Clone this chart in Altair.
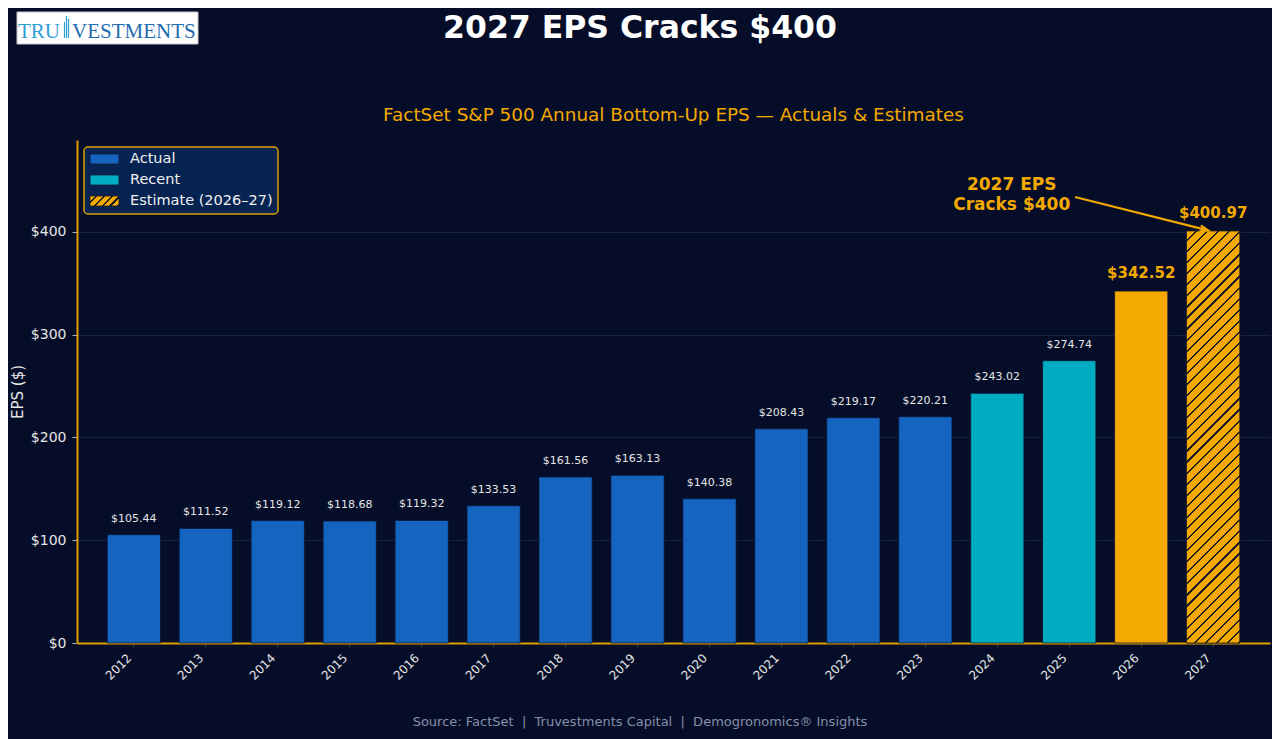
import math
import altair as alt
import pandas as pd

# ---------------- data ----------------
years = ["2012", "2013", "2014", "2015", "2016", "2017", "2018", "2019",
         "2020", "2021", "2022", "2023", "2024", "2025", "2026", "2027"]
eps = [105.44, 111.52, 119.12, 118.68, 119.32, 133.53, 161.56, 163.13,
       140.38, 208.43, 219.17, 220.21, 243.02, 274.74, 342.52, 400.97]
kinds = ["Actual"] * 12 + ["Recent"] * 2 + ["Estimate"] * 2
kind_order = ["Actual", "Recent", "Estimate"]
legend_labels = ["Actual", "Recent", "Estimate (2026–27)"]
y_ticks = [0, 100, 200, 300, 400]

title_text = "2027 EPS Cracks $400"
subtitle_text = "FactSet S&P 500 Annual Bottom-Up EPS — Actuals & Estimates"
source_text = "Source: FactSet\u00a0 |\u00a0 Truvestments Capital\u00a0 |\u00a0 Demogronomics® Insights"
annot_text = "2027 EPS\nCracks $400"

df = pd.DataFrame({"year": years, "eps": eps, "kind": kinds})

# ---------------- style ----------------
BG = "#050d28"
BLUE = "#1565c0"
CYAN = "#00acc1"
GOLD = "#f4a900"
HATCH = "#1c1c24"
TXT = "#e6e6e6"
FONT = "DejaVu Sans"

W, H = 1193, 503
YMAX = 489.5
P_IN, P_OUT = 0.26, 0.42
N = len(years)
step = W / (N - P_IN + 2 * P_OUT)
bar_w = step * (1 - P_IN)
c0 = P_OUT + (1 - P_IN) / 2          # first band centre, in steps
XQ_DOMAIN = [-c0, W / step - c0]      # index scale aligned with band centres


def hatch(w, h, n, base, line, frac=0.2):
    k = (w + h) / (w * w + h * h)
    stops = []
    for i in range(n):
        a, b, c = i / n, (i + 1 - frac) / n, (i + 1) / n
        stops += [alt.GradientStop(offset=a, color=base),
                  alt.GradientStop(offset=b, color=base),
                  alt.GradientStop(offset=b, color=line),
                  alt.GradientStop(offset=c, color=line)]
    return alt.LinearGradient(gradient="linear", stops=stops,
                              x1=0, y1=0, x2=k * w, y2=k * h)


bar_h_2027 = eps[-1] * H / YMAX

# ---------------- axes ----------------
x_axis = alt.Axis(title=None, labelAngle=-45, labelAlign="right",
                  labelBaseline="top", labelFontSize=12,
                  labelColor=TXT, labelPadding=5, labelOffset=-8,
                  tickColor="#3a3a3a",
                  tickSize=4, domainColor="#e0a000", domainWidth=2,
                  grid=False)
y_axis = alt.Axis(title="EPS ($)", values=y_ticks,
                  labelExpr="'$' + datum.value", labelFontSize=14,
                  labelColor=TXT, labelPadding=6, tickColor="#b0b0b0",
                  tickSize=5, domainColor="#e0a000", domainWidth=2,
                  grid=True, gridColor="#17223f", gridWidth=1,
                  titleColor=TXT, titleFontSize=15,
                  titleFontWeight="normal", titleX=-60,
                  titleY=H / 2, titleBaseline="middle",
                  titleAlign="center")
y_scale = alt.Scale(domain=[0, YMAX], nice=False)

x_enc = alt.X("year:N", sort=years,
              scale=alt.Scale(paddingInner=P_IN, paddingOuter=P_OUT),
              axis=x_axis)
y_enc = alt.Y("eps:Q", scale=y_scale, axis=y_axis)

base = alt.Chart(df)

bars = base.mark_bar(stroke="#0a1636", strokeWidth=0.8).encode(
    x=x_enc, y=y_enc,
    color=alt.Color("kind:N", scale=alt.Scale(domain=kind_order,
                                              range=[BLUE, CYAN, GOLD]),
                    legend=None))

hatch_bar = base.transform_filter("datum.year == '2027'").mark_bar(
    fill=hatch(bar_w, bar_h_2027, 42, GOLD, HATCH),
    stroke=HATCH, strokeWidth=0.8).encode(x=x_enc, y=y_enc)

small_labels = base.transform_filter("datum.kind != 'Estimate'").mark_text(
    dy=-16, fontSize=11, color=TXT, font=FONT).encode(
    x=x_enc, y=y_enc, text=alt.Text("eps:Q", format="$.2f"))

big_labels = base.transform_filter("datum.kind == 'Estimate'").mark_text(
    dy=-18, fontSize=15, fontWeight="bold", color=GOLD, font=FONT).encode(
    x=x_enc, y=y_enc, text=alt.Text("eps:Q", format="$.2f"))

main = alt.layer(bars, hatch_bar, small_labels, big_labels)

# ---------------- annotation ----------------
ann_x, ann_y = 12.2, 445.7
arr_x0, arr_y0 = 13.08, 434.0
arr_x1, arr_y1 = 14.93, 401.5

px0 = (arr_x0 + c0) * step
py0 = H - arr_y0 * H / YMAX
px1 = (arr_x1 + c0) * step
py1 = H - arr_y1 * H / YMAX
ang = math.degrees(math.atan2(px1 - px0, -(py1 - py0))) % 360

ann_df = pd.DataFrame({"ax": [ann_x], "ay": [ann_y], "txt": [annot_text]})
arr_df = pd.DataFrame({"x0": [arr_x0], "y0": [arr_y0], "x1": [arr_x1], "y1": [arr_y1]})
xq = alt.Scale(domain=XQ_DOMAIN, nice=False, zero=False)

ann_text = alt.Chart(ann_df).mark_text(
    fontSize=17, fontWeight="bold", color=GOLD, font=FONT, lineBreak="\n",
    lineHeight=20, align="center", baseline="middle").encode(
    x=alt.X("ax:Q", scale=xq, axis=None),
    y=alt.Y("ay:Q", scale=y_scale, axis=y_axis), text="txt:N")

arrow = alt.Chart(arr_df).mark_rule(color=GOLD, strokeWidth=2.2).encode(
    x=alt.X("x0:Q", scale=xq, axis=None), x2="x1:Q",
    y=alt.Y("y0:Q", scale=y_scale, axis=y_axis), y2="y1:Q")

head = alt.Chart(arr_df).mark_point(
    shape="M-0.55,1.5L0,0L0.55,1.5", filled=False, color=GOLD,
    strokeWidth=2.2, size=120, angle=ang, opacity=1).encode(
    x=alt.X("x1:Q", scale=xq, axis=None),
    y=alt.Y("y1:Q", scale=y_scale, axis=y_axis))

# ---------------- decorations (pixel placed) ----------------
main_title = alt.Chart(pd.DataFrame({"t": [title_text]})).mark_text(
    fontSize=31.5, fontWeight="bold", color="white", font=FONT, align="center",
    baseline="middle").encode(x=alt.value(563), y=alt.value(-111.5), text="t:N")

subtitle = alt.Chart(pd.DataFrame({"t": [subtitle_text]})).mark_text(
    fontSize=18.4, color=GOLD, font=FONT, align="center", baseline="middle").encode(
    x=alt.value(W / 2), y=alt.value(-25), text="t:N")

src = alt.Chart(pd.DataFrame({"t": [source_text]})).mark_text(
    fontSize=13, color="#8690aa", font=FONT, align="center",
    baseline="middle").encode(x=alt.value(563), y=alt.value(582), text="t:N")

# logo
logo_box = alt.Chart(pd.DataFrame({"a": [0]})).mark_rect(
    fill="white", stroke="#c8c8c8", strokeWidth=1).encode(
    x=alt.value(-60), x2=alt.value(121), y=alt.value(-128), y2=alt.value(-96))
logo_tru = alt.Chart(pd.DataFrame({"t": ["TRU"]})).mark_text(
    font="Liberation Serif", fontSize=21, color="#2f9fd6", align="left",
    baseline="alphabetic").encode(x=alt.value(-59), y=alt.value(-102), text="t:N")
logo_vest = alt.Chart(pd.DataFrame({"t": ["VESTMENTS"]})).mark_text(
    font="Liberation Serif", fontSize=21, color="#1f6cae", align="left",
    baseline="alphabetic").encode(x=alt.value(-5), y=alt.value(-102), text="t:N")
logo_lines = [
    alt.Chart(pd.DataFrame({"a": [0]})).mark_rule(color="#2f9fd6", strokeWidth=1.2).encode(
        x=alt.value(xx), y=alt.value(yy), y2=alt.value(-102))
    for xx, yy in [(-12.5, -118), (-10.5, -124), (-8.5, -121)]
]

# legend
leg = [alt.Chart(pd.DataFrame({"a": [0]})).mark_rect(
    fill="#062352", stroke="#e0a000", strokeWidth=1.5, cornerRadius=4).encode(
    x=alt.value(7), x2=alt.value(201), y=alt.value(7), y2=alt.value(74))]
sw_fills = [BLUE, CYAN, hatch(29, 10, 5, GOLD, HATCH, 0.3)]
for i, (lab, fl) in enumerate(zip(legend_labels, sw_fills)):
    yc = 19 + 21 * i
    leg.append(alt.Chart(pd.DataFrame({"a": [0]})).mark_rect(
        fill=fl, stroke="#0a1636" if i < 2 else HATCH, strokeWidth=0.8).encode(
        x=alt.value(13), x2=alt.value(42), y=alt.value(yc - 5), y2=alt.value(yc + 5)))
    leg.append(alt.Chart(pd.DataFrame({"t": [lab]})).mark_text(
        fontSize=14.5, color="#f0f0f0", font=FONT, align="left",
        baseline="middle").encode(x=alt.value(53), y=alt.value(yc), text="t:N"))

chart = alt.layer(
    main, ann_text, arrow, head, main_title, subtitle, src,
    logo_box, logo_tru, logo_vest, *logo_lines, *leg
).resolve_scale(x="independent").properties(
    width=W, height=H,
    autosize=alt.AutoSizeParams(type="none"),
    padding={"left": 69, "top": 132, "right": 2, "bottom": 96},
    background=BG,
).configure(font=FONT).configure_view(stroke=None)

chart.save("out.html", embed_options={"renderer": "svg", "actions": False})
